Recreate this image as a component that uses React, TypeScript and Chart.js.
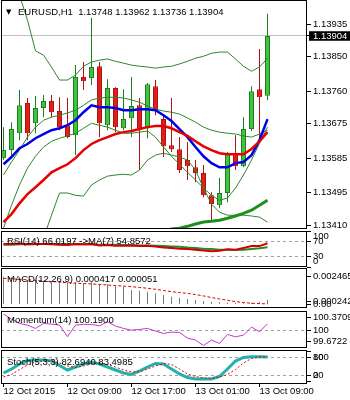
import React, { useEffect, useRef } from 'react';
import { Chart, registerables } from 'chart.js';

Chart.register(...registerables);

const FONT = "'Liberation Sans', Arial, sans-serif";

// ---------------- data ----------------
const symbolTitle = 'EURUSD,H1  1.13748 1.13962 1.13736 1.13904';
const timeLabels = ['12 Oct 2015', '12 Oct 09:00', '12 Oct 17:00', '13 Oct 01:00', '13 Oct 09:00'];
const timeTickBars = [0, 8, 16, 24, 32];

const opens = [1.13585, 1.13606, 1.1365, 1.13729, 1.13676, 1.13716, 1.13734, 1.13708, 1.13671, 1.13645, 1.13797, 1.13794, 1.13825, 1.13671, 1.13768, 1.13663, 1.13689, 1.13723, 1.13663, 1.13773, 1.13687, 1.13619, 1.13608, 1.1358, 1.13561, 1.13546, 1.13488, 1.13462, 1.13494, 1.13595, 1.13564, 1.13661, 1.13765, 1.13748];
const highs = [1.13666, 1.13679, 1.13763, 1.13742, 1.13747, 1.1375, 1.1375, 1.13744, 1.13742, 1.13828, 1.13836, 1.13951, 1.13836, 1.13791, 1.1377, 1.13765, 1.13797, 1.13742, 1.13781, 1.13789, 1.13697, 1.13742, 1.1364, 1.13627, 1.1358, 1.13567, 1.13496, 1.13533, 1.13601, 1.13645, 1.13692, 1.13773, 1.1387, 1.13962];
const lows = [1.1358, 1.13585, 1.13632, 1.13632, 1.1365, 1.13692, 1.13692, 1.13658, 1.13637, 1.13593, 1.13763, 1.13776, 1.1364, 1.13658, 1.13653, 1.13658, 1.1364, 1.13554, 1.13637, 1.13697, 1.13588, 1.13601, 1.13546, 1.13528, 1.13522, 1.13483, 1.13418, 1.13454, 1.1347, 1.13554, 1.13561, 1.13656, 1.13632, 1.13736];
const closes = [1.13606, 1.13661, 1.13723, 1.1365, 1.13716, 1.13734, 1.13705, 1.13666, 1.1364, 1.13797, 1.13786, 1.13823, 1.13676, 1.13768, 1.13666, 1.13687, 1.13721, 1.13663, 1.13778, 1.1371, 1.13616, 1.13608, 1.13554, 1.13564, 1.13546, 1.13488, 1.13465, 1.13494, 1.13598, 1.13564, 1.13661, 1.1376, 1.13744, 1.13904];

const maFast = [1.13569, 1.13588, 1.13611, 1.13622, 1.13637, 1.13648, 1.13658, 1.13663, 1.13671, 1.13684, 1.13705, 1.13723, 1.13718, 1.13718, 1.13716, 1.1371, 1.1371, 1.13713, 1.13713, 1.1371, 1.13697, 1.13682, 1.13661, 1.1364, 1.13614, 1.1359, 1.13572, 1.13561, 1.13561, 1.13572, 1.13575, 1.13593, 1.13632, 1.13687];
const maSlow = [1.13418, 1.13439, 1.13467, 1.13491, 1.13509, 1.13528, 1.13548, 1.13559, 1.13569, 1.13585, 1.13606, 1.13622, 1.13632, 1.1364, 1.13648, 1.13653, 1.13656, 1.13661, 1.13666, 1.13669, 1.13669, 1.13663, 1.13653, 1.13643, 1.13629, 1.13616, 1.13606, 1.13598, 1.13595, 1.13595, 1.13595, 1.13609, 1.13629, 1.13653];
const maTrend = [null, null, null, null, null, null, null, null, null, null, null, null, null, null, null, null, null, null, 1.13381, 1.13389, 1.13394, 1.134, 1.13402, 1.13407, 1.13413, 1.13418, 1.1342, 1.13423, 1.13428, 1.13434, 1.13441, 1.13449, 1.13462, 1.13475];
const bandUpper = [1.14102, 1.14063, 1.14011, 1.13945, 1.13865, 1.13854, 1.13823, 1.13789, 1.13789, 1.13802, 1.13825, 1.13836, 1.13841, 1.13844, 1.13838, 1.13833, 1.13828, 1.13825, 1.13823, 1.1382, 1.13823, 1.13825, 1.13831, 1.13838, 1.13846, 1.13851, 1.13859, 1.13862, 1.13862, 1.13844, 1.13825, 1.13812, 1.13823, 1.13846];
const envUpper = [1.13541, 1.13575, 1.13606, 1.1364, 1.13666, 1.13684, 1.13692, 1.13697, 1.13703, 1.1371, 1.13723, 1.13737, 1.13742, 1.13744, 1.13744, 1.13742, 1.13737, 1.13731, 1.13721, 1.13713, 1.13708, 1.13705, 1.137, 1.1369, 1.13679, 1.13666, 1.13658, 1.13653, 1.1365, 1.13648, 1.13643, 1.1364, 1.13648, 1.13658];
const envLower = [1.13402, 1.13462, 1.13515, 1.13559, 1.1359, 1.13614, 1.13629, 1.13637, 1.13643, 1.1365, 1.13663, 1.13676, 1.13671, 1.13666, 1.13658, 1.1365, 1.1365, 1.13653, 1.13656, 1.1364, 1.13614, 1.1359, 1.13569, 1.13548, 1.13528, 1.13507, 1.13488, 1.13475, 1.13481, 1.13507, 1.13541, 1.1358, 1.13624, 1.13666];
const bandLower = [1.13214, 1.1324, 1.13272, 1.13306, 1.13345, 1.13376, 1.13436, 1.13494, 1.13494, 1.13488, 1.13486, 1.13515, 1.13528, 1.13538, 1.13541, 1.13543, 1.13541, 1.13554, 1.1358, 1.13593, 1.13598, 1.13593, 1.13588, 1.1358, 1.13554, 1.13507, 1.13465, 1.13444, 1.13436, 1.13436, 1.13436, 1.13434, 1.13431, 1.13418];
const priceTicks = [1.13935, 1.13904, 1.1385, 1.1376, 1.13675, 1.13585, 1.13495, 1.1341];
const lastPrice = 1.13904;

const rsiTitle = 'RSI(14) 66.0197 ->MA(7) 54.8572';
const rsi = [64, 64, 65, 63, 64, 64, 63, 62, 61, 64, 63, 64, 60, 61, 59, 59, 60, 58, 59, 57, 54, 53, 51, 50, 48, 46, 44, 45, 49, 48, 53, 58, 58, 66.0197];
const rsiMa = [62, 62, 63, 63, 63, 64, 64, 63, 63, 63, 63, 63, 62, 62, 62, 61, 61, 60, 60, 59, 58, 57, 56, 54, 53, 51, 50, 48, 48, 47, 48, 50, 52, 54.8572];
const rsiTicks = [100, 70, 30, 0];
const rsiLevels = [70, 30];

const macdTitle = 'MACD(12,26,9) 0.000417 0.000051';
const macdMain = [0.002465, 0.002409, 0.00232, 0.002172, 0.002172, 0.002084, 0.002024, 0.002024, 0.001966, 0.001966, 0.001877, 0.001966, 0.001788, 0.001788, 0.00164, 0.001581, 0.001286, 0.001226, 0.001138, 0.00099, 0.000842, 0.000694, 0.000606, 0.000488, 0.000399, 0.00031, 0.000251, 0.000192, 0.000162, 0.000133, 0.000104, 0.000162, 0.000192, 0.000417];
const macdSignal = [0.00232, 0.00228, 0.00224, 0.00219, 0.00214, 0.00209, 0.00204, 0.00199, 0.00194, 0.00189, 0.00185, 0.00182, 0.00178, 0.00173, 0.00168, 0.00163, 0.00158, 0.00151, 0.00144, 0.00135, 0.00124, 0.00114, 0.00106, 0.00099, 0.00088, 0.00076, 0.00062, 0.00049, 0.00038, 0.00025, 0.00018, 0.00011, 0.00008, 0.000051];
const macdTicks = [0.002465, 0.000242, 0];

const momentumTitle = 'Momentum(14) 100.1900';
const momentum = [100.48, 100.33, 100.2, 100.15, 100.05, 100.2, 100.18, 100.15, 99.8, 100.15, 100.17, 100.17, 100.13, 100.25, 100.12, 100.05, 100.0, 100.02, 100.05, 99.97, 99.9, 99.94, 99.93, 99.76, 99.7, 99.54, 99.7, 99.6, 99.87, 99.8, 99.85, 100.09, 99.95, 100.19];
const momentumTicks = [100.3709, 100, 99.6722];
const momentumLevels = [100];

const stochTitle = 'Stoch(5,3,3) 82.6940 83.4985';
const stochMain = [28.5, 42, 59, 71, 72.5, 72.5, 69, 54, 38.6, 48.8, 59, 65.8, 59, 48.8, 38.6, 28.5, 23.4, 35.3, 48.8, 60.7, 59, 42, 25.1, 13.2, 8.1, 8.1, 8.1, 16.6, 42, 69, 81, 83.7, 83.7, 82.694];
const stochSignal = [15, 23.4, 40.3, 55.6, 65.8, 69.2, 69.2, 62.4, 52.2, 47.1, 52.2, 59, 62.4, 57.3, 48.8, 38.6, 31.9, 31.9, 42, 52.2, 60.7, 57.3, 42, 25.1, 16.6, 11.5, 10.5, 15, 23.4, 40.3, 62.4, 77.6, 82.7, 83.4985];
const stochTicks = [100, 80, 20, 0];
const stochLevels = [80, 20];

// ---------------- helpers ----------------
const X_MIN = -0.3125;
const X_MAX = 37.9375;
const near = (a: number, b: number) => Math.abs(a - b) < 1e-9;
const pts = (arr: (number | null)[]) => arr.map((v, i) => ({ x: i, y: v }));
const line = (arr: (number | null)[], color: string, width: number, order: number, dash: number[] = []) => ({
  type: 'line',
  data: pts(arr),
  borderColor: color,
  borderWidth: width,
  borderDash: dash,
  pointRadius: 0,
  fill: false,
  tension: 0,
  order,
  clip: 0,
});

type Spec = {
  datasets: any[];
  yMin: number;
  yMax: number;
  yTicks: number[];
  fmt: (v: number) => string;
  levels: number[];
  edgeShift: boolean;
  title: string;
  titleX: number;
  titleBaseline: number;
  padTop: number;
  padBottom: number;
  showX: boolean;
  marker?: number;
  arrow?: boolean;
  lineHeight: number;
};

function makeChart(canvas: HTMLCanvasElement, spec: Spec) {
  const isMarker = (v: number) => spec.marker !== undefined && near(v, spec.marker);
  const isLevel = (v: number) => spec.levels.some((l) => near(l, v));
  const hi = Math.max(...spec.yTicks);
  const lo = Math.min(...spec.yTicks);
  const framePlugin = {
    id: 'frame',
    afterDraw(chart: any) {
      const { ctx, chartArea: a } = chart;
      ctx.save();
      ctx.strokeStyle = '#000';
      ctx.lineWidth = 1;
      const l = Math.round(a.left), t = Math.round(a.top), r = Math.round(a.right), b = Math.round(a.bottom);
      ctx.strokeRect(l + 0.5, t + 0.5, r - l - 1, b - t - 1);
      ctx.fillStyle = '#000';
      ctx.textAlign = 'left';
      ctx.textBaseline = 'alphabetic';
      if (spec.arrow) {
        ctx.font = "7px 'DejaVu Sans'";
        ctx.fillText('▼', 6, t + 13.5);
      }
      ctx.font = `9.5px ${FONT}`;
      ctx.fillText(spec.title, spec.titleX, t + spec.titleBaseline);
      ctx.restore();
    },
  };
  return new Chart(canvas, {
    type: 'line',
    data: { datasets: spec.datasets },
    options: {
      responsive: false,
      animation: false,
      devicePixelRatio: 1,
      events: [],
      layout: { padding: { left: 1, right: 0, top: spec.padTop, bottom: spec.padBottom } },
      plugins: { legend: { display: false }, tooltip: { enabled: false }, title: { display: false } },
      scales: {
        x: {
          type: 'linear',
          min: X_MIN,
          max: X_MAX,
          offset: false,
          display: spec.showX,
          afterBuildTicks: (s: any) => {
            s.ticks = timeTickBars.map((v) => ({ value: v }));
          },
          afterFit: (s: any) => {
            if (spec.showX) s.height = 16;
            s.paddingLeft = 0;
            s.paddingRight = 0;
            s.paddingTop = 0;
            s.paddingBottom = 0;
          },
          ticks: {
            autoSkip: false,
            maxRotation: 0,
            minRotation: 0,
            align: 'start',
            padding: 0,
            color: '#000',
            font: { family: FONT, size: 9.5, lineHeight: 1 },
            callback: (v: number) => timeLabels[timeTickBars.indexOf(v)],
          },
          grid: { drawOnChartArea: false, drawTicks: true, tickLength: 3, tickColor: '#000' },
          border: { display: false },
        },
        y: {
          type: 'linear',
          position: 'right',
          min: spec.yMin,
          max: spec.yMax,
          afterBuildTicks: (s: any) => {
            s.ticks = spec.yTicks.map((v) => ({ value: v }));
          },
          afterFit: (s: any) => {
            s.width = 43;
            s.paddingTop = 0;
            s.paddingBottom = 0;
            s.paddingLeft = 0;
            s.paddingRight = 0;
          },
          ticks: {
            autoSkip: false,
            padding: 2,
            font: { family: FONT, size: 9.5, lineHeight: spec.lineHeight },
            color: (c: any) => (c.tick && isMarker(c.tick.value) ? '#fff' : '#000'),
            showLabelBackdrop: (c: any) => !!(c.tick && isMarker(c.tick.value)),
            backdropColor: '#000',
            backdropPadding: { top: 0, bottom: 0, left: 4, right: 4 },
            callback: (v: number) => {
              const s = spec.fmt(v);
              if (!spec.edgeShift) return s;
              if (near(v, hi)) return ['', s];
              if (near(v, lo)) return [s, ''];
              return s;
            },
          },
          grid: {
            drawOnChartArea: true,
            drawTicks: true,
            tickLength: 4,
            tickColor: '#000',
            lineWidth: 1,
            color: (c: any) => {
              if (!c.tick) return 'rgba(0,0,0,0)';
              if (isMarker(c.tick.value)) return '#c0c0c0';
              if (isLevel(c.tick.value)) return '#a0a0a0';
              return 'rgba(0,0,0,0)';
            },
          },
          border: { display: false, dash: spec.marker !== undefined ? [] : [3, 3] },
        },
      },
    } as any,
    plugins: [framePlugin],
  });
}

export default function App() {
  const mainRef = useRef<HTMLCanvasElement>(null);
  const rsiRef = useRef<HTMLCanvasElement>(null);
  const macdRef = useRef<HTMLCanvasElement>(null);
  const momRef = useRef<HTMLCanvasElement>(null);
  const stochRef = useRef<HTMLCanvasElement>(null);

  useEffect(() => {
    const idx = closes.map((_, i) => i);
    const bull = idx.map((i) => closes[i] >= opens[i]);
    const charts: Chart[] = [];

    charts.push(
      makeChart(mainRef.current!, {
        datasets: [
          line(maTrend, '#1d8f1d', 3, 1),
          line(maSlow, '#e60000', 2.5, 1),
          line(maFast, '#0000e6', 2.5, 1),
          line(bandUpper, '#2d862d', 1, 3),
          line(envUpper, '#2d862d', 1, 3),
          line(envLower, '#2d862d', 1, 3),
          line(bandLower, '#2d862d', 1, 3),
          {
            type: 'bar',
            data: idx.map((i) => ({ x: i, y: [opens[i], closes[i]] })),
            backgroundColor: bull.map((b) => (b ? '#3fc43f' : '#e41c1c')),
            borderColor: bull.map((b) => (b ? '#1e7d1e' : '#b01212')),
            borderWidth: 1,
            borderSkipped: false,
            barThickness: 5,
            grouped: false,
            inflateAmount: 0,
            order: 9,
          },
          {
            type: 'bar',
            data: idx.map((i) => ({ x: i, y: [lows[i], highs[i]] })),
            backgroundColor: bull.map((b) => (b ? '#1e7d1e' : '#b01212')),
            borderWidth: 0,
            barThickness: 1,
            grouped: false,
            inflateAmount: 0,
            order: 10,
          },
        ],
        yMin: 1.134,
        yMax: 1.13998,
        yTicks: priceTicks,
        fmt: (v) => v.toFixed(5),
        levels: [],
        edgeShift: false,
        title: symbolTitle,
        titleX: 18,
        titleBaseline: 15,
        padTop: 0,
        padBottom: 1,
        showX: false,
        marker: lastPrice,
        arrow: true,
        lineHeight: 1,
      })
    );

    charts.push(
      makeChart(rsiRef.current!, {
        datasets: [line(rsi, '#d40000', 2, 1), line(rsiMa, '#2a8a2a', 2, 2)],
        yMin: 0,
        yMax: 100,
        yTicks: rsiTicks,
        fmt: (v) => String(v),
        levels: rsiLevels,
        edgeShift: true,
        title: rsiTitle,
        titleX: 7,
        titleBaseline: 12.5,
        padTop: 1,
        padBottom: 1,
        showX: false,
        lineHeight: 1.2,
      })
    );

    charts.push(
      makeChart(macdRef.current!, {
        datasets: [
          line(macdSignal, '#e00000', 1, 1, [3, 2]),
          {
            type: 'bar',
            data: pts(macdMain),
            backgroundColor: '#7a7a7a',
            borderWidth: 0,
            barThickness: 1,
            grouped: false,
            inflateAmount: 0,
            order: 2,
          },
        ],
        yMin: -0.00031,
        yMax: 0.003236,
        yTicks: macdTicks,
        fmt: (v) => (v === 0 ? '0.00' : v.toFixed(6)),
        levels: [],
        edgeShift: false,
        title: macdTitle,
        titleX: 7,
        titleBaseline: 13.5,
        padTop: 0,
        padBottom: 1,
        showX: false,
        lineHeight: 1.2,
      })
    );

    charts.push(
      makeChart(momRef.current!, {
        datasets: [line(momentum, '#cc33cc', 1, 1)],
        yMin: 99.464,
        yMax: 100.572,
        yTicks: momentumTicks,
        fmt: (v) => (near(v, 100) ? '100' : v.toFixed(4)),
        levels: momentumLevels,
        edgeShift: false,
        title: momentumTitle,
        titleX: 7,
        titleBaseline: 12,
        padTop: 2,
        padBottom: 1,
        showX: false,
        lineHeight: 1.2,
      })
    );

    charts.push(
      makeChart(stochRef.current!, {
        datasets: [line(stochSignal, '#e00000', 1, 1, [2, 2]), line(stochMain, '#20b2aa', 3, 2)],
        yMin: -8.8,
        yMax: 106.4,
        yTicks: stochTicks,
        fmt: (v) => String(v),
        levels: stochLevels,
        edgeShift: true,
        title: stochTitle,
        titleX: 7,
        titleBaseline: 14.5,
        padTop: 1,
        padBottom: 0,
        showX: true,
        lineHeight: 1.2,
      })
    );

    return () => charts.forEach((c) => c.destroy());
  }, []);

  const abs = (top: number): React.CSSProperties => ({ position: 'absolute', left: 0, top });
  return (
    <div style={{ position: 'fixed', left: 0, top: 0, width: 350, height: 400, background: '#fff', overflow: 'hidden' }}>
      <canvas ref={mainRef} width={350} height={230} style={abs(0)} />
      <canvas ref={rsiRef} width={350} height={38} style={abs(230)} />
      <canvas ref={macdRef} width={350} height={41} style={abs(268)} />
      <canvas ref={momRef} width={350} height={40} style={abs(309)} />
      <canvas ref={stochRef} width={350} height={51} style={abs(349)} />
    </div>
  );
}
